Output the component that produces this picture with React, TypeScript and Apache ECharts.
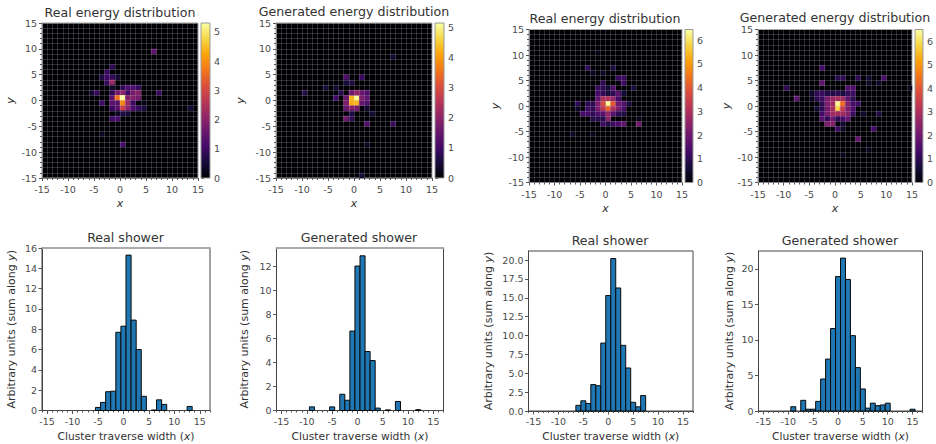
import React, { useEffect, useRef } from "react";
import * as echarts from "echarts";

const FONT = "DejaVu Sans";
const inferno = ["#000004", "#160b39", "#420a68", "#6a176e", "#932667", "#bc3754", "#dd513a", "#f37819", "#fca50a", "#f6d746", "#fcffa4"];

// Energy maps: [x bin lower edge, y bin lower edge, energy]
const realMapA = [
  [-2,6,0.8],[-3,5,0.9],[-4,4,0.6],[-3,4,1.0],[-2,4,0.9],[-1,4,0.5],[-3,3,0.9],[-2,3,2.2],
  [-2,2,0.4],[0,2,0.8],[1,2,1.2],[2,2,1.2],[3,2,0.9],
  [-6,1,0.4],[-5,1,0.9],[-2,1,0.8],[-1,1,1.7],[0,1,2.0],[1,1,1.0],[2,1,1.7],[3,1,1.9],[7,1,0.9],
  [-2,0,1.4],[-1,0,3.6],[0,0,5.3],[1,0,1.9],[2,0,1.9],[3,0,1.7],
  [-4,-1,1.0],[-2,-1,1.4],[-1,-1,1.3],[0,-1,3.9],[1,-1,2.2],[2,-1,1.0],[4,-1,0.2],
  [-2,-2,1.0],[-1,-2,1.3],[0,-2,2.8],[1,-2,2.0],[2,-2,1.2],[3,-2,0.9],[4,-2,0.6],[13,-2,0.5],
  [-1,-3,0.3],[0,-3,0.6],[1,-3,0.5],[-2,-4,1.0],[-1,-4,1.1],[-4,-7,0.3],[0,-9,1.1],[6,9,1.4],
];
const genMapA = [
  [0,0,5.1],[-1,0,4.3],[-1,-1,4.2],[0,-1,4.3],[1,0,1.8],[2,0,1.4],[2,1,1.2],[1,1,1.5],[0,1,2.0],[-1,1,1.6],
  [-2,0,1.5],[-2,-1,1.8],[-2,-2,1.5],[-1,-2,1.9],[0,-2,1.7],[1,-1,1.5],[2,-1,1.2],
  [-4,0,1.0],[-3,1,0.7],[-6,2,0.5],[-4,2,0.4],[-10,1,0.7],[-2,4,1.2],[-2,3,0.5],[-1,3,0.6],[1,4,0.9],[7,8,0.4],
  [-2,-4,1.6],[-1,-4,0.8],[-1,-3,0.6],[2,-5,1.2],[3,-3,0.5],[2,-2,0.4],[7,-5,0.9],[2,-9,0.3],[1,-15,0.5],
];
const realMapB = [
  [0,0,6.4],[-1,0,3.7],[1,0,4.0],[2,0,2.0],[3,0,1.6],[0,-1,4.2],[-1,-1,3.2],[1,-1,3.0],[2,-1,2.2],[3,-1,1.4],[-2,-1,2.2],
  [0,1,3.0],[-1,1,3.0],[1,1,2.6],[2,1,1.3],[-2,1,1.7],[-2,0,2.2],
  [0,-2,2.6],[-1,-2,1.6],[1,-2,1.7],[2,-2,1.0],[3,-2,0.8],[-2,-2,1.5],[-3,-2,1.0],[-4,-2,1.3],[-5,-2,1.3],
  [0,-3,2.4],[-1,-3,0.9],[-2,-3,0.9],[-3,-3,0.8],[1,-4,1.2],[0,-4,0.8],[-1,-4,1.2],[2,-4,1.4],[3,-4,1.8],[6,-4,2.0],[6,-3,0.3],
  [-3,-1,1.0],[-4,-1,1.2],[-4,0,0.9],[-3,0,1.0],[-6,0,1.0],[-6,-1,0.4],
  [2,2,1.7],[3,2,0.6],[1,2,1.0],[1,3,1.5],[0,3,0.6],[-1,3,1.0],[-2,3,1.1],[-1,4,1.0],[-1,2,1.1],[-2,2,1.3],[0,2,0.7],[4,0,0.7],
  [2,5,1.1],[3,5,1.2],[3,4,1.2],[5,3,0.7],[-4,7,1.0],[1,7,0.7],[-3,6,0.4],[-1,6,0.4],[-7,-6,0.4],[-3,-6,0.3],[-2,10,0.2],
];
const genMapB = [
  [0,0,6.4],[0,-1,5.8],[1,0,4.4],[1,-1,3.4],[-1,0,2.8],[-1,-1,2.9],[-1,1,2.7],[0,1,2.9],[1,1,2.8],[2,1,1.7],[2,0,2.3],[2,-1,2.2],
  [1,-2,2.8],[0,-2,2.8],[-1,-2,2.8],[2,-2,2.4],[-2,1,2.2],[-2,0,2.3],[-2,-1,2.1],[-2,-2,2.2],[3,-1,1.5],[3,0,1.4],[3,1,1.0],
  [-3,-1,1.0],[-3,-2,1.3],[-3,0,1.0],[-4,-1,0.5],[-2,-3,1.0],[-1,-3,2.0],[0,-3,1.0],[1,-3,1.4],[2,-3,1.8],[3,-2,1.2],[-3,-3,1.6],
  [-2,-4,2.2],[-1,-4,2.3],[2,2,1.1],[0,2,1.0],[-1,2,0.8],[1,2,0.7],[2,3,1.5],[3,3,1.5],[3,2,1.2],[-3,2,1.2],[-4,2,1.0],[-3,1,1.2],[-4,1,1.0],[-2,2,0.8],[-5,2,0.5],[-5,1,0.3],
  [-3,4,1.7],[0,5,0.9],[1,5,1.0],[4,5,1.0],[6,5,0.5],[9,5,1.4],[8,4,0.4],[6,4,0.4],[-3,7,1.3],[-10,3,1.0],[-8,1,1.7],[14,3,0.3],
  [4,0,1.2],[8,-2,0.8],[5,-2,0.5],[7,-5,1.3],[0,-5,1.2],[1,-5,0.4],[1,-4,0.5],[4,-7,1.8],[6,-9,0.3],[1,-10,0.3],
];

// Shower profiles: [bin centre, height]
const realHistA = [[-5,0.3],[-4,0.8],[-3,1.85],[-2,1.9],[-1,7.7],[0,8.3],[1,15.3],[2,8.9],[3,6.0],[4,1.4],[6,0.05],[7,1.05],[8,0.6],[13,0.4]];
const genHistA = [[-9,0.3],[-5,0.3],[-3,1.35],[-2,0.85],[-1,6.6],[0,12.0],[1,12.85],[2,4.9],[3,4.15],[4,0.2],[6,0.05],[8,0.75],[12,0.07]];
const realHistB = [[-6,0.75],[-5,1.35],[-4,1.0],[-3,3.5],[-2,3.35],[-1,9.0],[0,15.3],[1,20.2],[2,16.3],[3,8.7],[4,5.7],[5,1.15],[6,0.55],[7,2.05]];
const genHistB = [[-9,0.6],[-7,1.5],[-6,0.25],[-5,0.25],[-4,1.35],[-3,4.5],[-2,7.3],[-1,11.6],[0,18.9],[1,21.5],[2,18.5],[3,10.6],[4,6.1],[5,3.1],[6,0.4],[7,1.1],[8,0.75],[9,0.85],[10,1.1],[15,0.25]];

const xTicks = [-15, -10, -5, 0, 5, 10, 15];
const histMinor = Array.from({ length: 34 }, (_, i) => i - 16);
const bins = Array.from({ length: 30 }, (_, i) => String(i - 15));

const grey = "#555";
const text = "#4a4a4a";
const tickLabel = { color: text, fontFamily: FONT, fontSize: 9.5 };
const nameStyle = (size: number) => ({
  color: "#333", fontFamily: FONT, fontSize: size,
  rich: { i: { color: "#333", fontFamily: FONT, fontSize: size, fontStyle: "italic" } },
});

function buildOption() {
  const grid: any[] = [], xAxis: any[] = [], yAxis: any[] = [], series: any[] = [], title: any[] = [], visualMap: any[] = [];
  const addTitle = (t: string, cx: number, cy: number) =>
    title.push({ text: t, left: cx, top: cy - 7, textAlign: "center", padding: 0, textStyle: { color: "#333", fontFamily: FONT, fontSize: 12.6, fontWeight: "normal" } });

  const heat = (name: string, data: number[][], vmax: number, cbTicks: number[], L: number, T: number, W: number, H: number, cbL: number, cbW: number, cx: number, cy: number, xGap: number, yGap: number) => {
    addTitle(name, cx, cy);
    const g = grid.length;
    grid.push({ left: L, top: T, width: W, height: H, show: true, backgroundColor: "#000004", borderColor: "#999", borderWidth: 1 });
    const xCat = xAxis.length, yCat = yAxis.length;
    xAxis.push({ type: "category", gridIndex: g, data: bins, show: false, position: "top" });
    yAxis.push({ type: "category", gridIndex: g, data: bins, show: false, position: "right" });
    const minor = { show: true, lineStyle: { color: "rgba(255,255,255,0.17)", width: 1 } };
    xAxis.push({
      type: "value", gridIndex: g, position: "bottom", min: -15, max: 15, interval: 5, z: 5,
      name: "{i|x}", nameLocation: "middle", nameGap: xGap, nameTextStyle: nameStyle(11),
      axisLine: { show: true, onZero: false, lineStyle: { color: "#888" } },
      axisTick: { length: 3, lineStyle: { color: grey } },
      minorTick: { show: true, splitNumber: 5, length: 2, lineStyle: { color: grey } },
      splitLine: minor, minorSplitLine: minor,
      axisLabel: { ...tickLabel, margin: 6.5, showMinLabel: true, showMaxLabel: true },
    });
    yAxis.push({
      type: "value", gridIndex: g, position: "left", min: -15, max: 15, interval: 5, z: 5,
      name: "{i|y}", nameLocation: "middle", nameGap: yGap, nameTextStyle: nameStyle(11),
      axisLine: { show: true, onZero: false, lineStyle: { color: "#888" } },
      axisTick: { length: 3, lineStyle: { color: grey } },
      minorTick: { show: true, splitNumber: 5, length: 2, lineStyle: { color: grey } },
      splitLine: minor, minorSplitLine: minor,
      axisLabel: { ...tickLabel, margin: 5, showMinLabel: true, showMaxLabel: true },
    });
    const s = series.length;
    series.push({
      type: "heatmap", xAxisIndex: xCat, yAxisIndex: yCat, silent: true, progressive: 0, z: 2,
      data: data.map(([x, y, v]) => [x + 15, y + 15, v]),
    });
    visualMap.push({ show: false, type: "continuous", seriesIndex: s, dimension: 2, min: 0, max: vmax, inRange: { color: inferno } });

    // colour bar
    const gb = grid.length;
    grid.push({ left: cbL, top: T, width: cbW, height: H });
    xAxis.push({ type: "value", gridIndex: gb, min: 0, max: 1, show: false });
    yAxis.push({
      type: "value", gridIndex: gb, position: "right", min: 0, max: vmax,
      axisLine: { show: false }, splitLine: { show: false },
      axisTick: { show: true, length: 3, customValues: cbTicks, lineStyle: { color: grey } },
      axisLabel: { ...tickLabel, margin: 4, customValues: cbTicks },
    });
    series.push({
      type: "custom", xAxisIndex: xAxis.length - 1, yAxisIndex: yAxis.length - 1, silent: true, clip: false,
      data: [[1, vmax]],
      renderItem: (_: any, api: any) => {
        const a = api.coord([0, api.value(1)]);
        const b = api.coord([api.value(0), 0]);
        return {
          type: "rect",
          shape: { x: a[0], y: a[1], width: b[0] - a[0], height: b[1] - a[1] },
          style: {
            stroke: "#999", lineWidth: 1,
            fill: new echarts.graphic.LinearGradient(0, 1, 0, 0, inferno.map((color, i) => ({ offset: i / (inferno.length - 1), color }))),
          },
        };
      },
    });
  };

  const hist = (name: string, data: number[][], ymax: number, yTicks: number[], fixed: boolean, L: number, T: number, W: number, H: number, cx: number, cy: number, xGap: number, yGap: number, softTop: boolean) => {
    addTitle(name, cx, cy);
    const g = grid.length;
    grid.push({ left: L, top: T, width: W, height: H, show: true, borderColor: "#444", borderWidth: 1 });
    const base = { type: "value", gridIndex: g, position: "bottom", min: -16, max: 17, splitLine: { show: false } };
    const xi = xAxis.length;
    xAxis.push({
      ...base, axisLine: { show: true, onZero: false, lineStyle: { color: "#444" } },
      axisTick: { show: true, length: 2, customValues: histMinor, lineStyle: { color: grey } },
      axisLabel: { show: false },
    });
    xAxis.push({
      ...base, axisLine: { show: false, onZero: false },
      axisTick: { show: true, length: 3.5, customValues: xTicks, lineStyle: { color: grey } },
      axisLabel: { ...tickLabel, margin: 5.5, customValues: xTicks },
      name: "Cluster traverse width ({i|x})", nameLocation: "middle", nameGap: xGap, nameTextStyle: nameStyle(10.7),
    });
    if (softTop) {
      xAxis.push({
        ...base, position: "top",
        axisLine: { show: true, onZero: false, lineStyle: { color: "#aaa", width: 2 } },
        axisTick: { show: false }, axisLabel: { show: false },
      });
    }
    const yi = yAxis.length;
    yAxis.push({
      type: "value", gridIndex: g, position: "left", min: 0, max: ymax,
      splitLine: { show: false },
      axisLine: { show: true, onZero: false, lineStyle: { color: "#444" } },
      axisTick: { show: true, length: 3.5, customValues: yTicks, lineStyle: { color: grey } },
      axisLabel: { ...tickLabel, margin: 5, customValues: yTicks, formatter: (v: number) => (fixed ? v.toFixed(1) : String(v)) },
      name: "Arbitrary units (sum along {i|y})", nameLocation: "middle", nameGap: yGap, nameTextStyle: nameStyle(11),
    });
    series.push({
      type: "custom", xAxisIndex: xi, yAxisIndex: yi, silent: true, z: 3,
      data,
      encode: { x: 0, y: 1 },
      renderItem: (_: any, api: any) => {
        const a = api.coord([api.value(0) - 0.5, api.value(1)]);
        const b = api.coord([api.value(0) + 0.5, 0]);
        return {
          type: "rect",
          shape: { x: a[0], y: a[1], width: b[0] - a[0], height: b[1] - a[1] },
          style: { fill: "#1f77b4", stroke: "#0a0a0a", lineWidth: 1 },
        };
      },
    });
  };

  heat("Real energy distribution", realMapA, 5.3, [0, 1, 2, 3, 4, 5], 42, 23, 156, 155, 201, 9, 120, 13, 20, 26);
  heat("Generated energy distribution", genMapA, 5.15, [0, 1, 2, 3, 4, 5], 276, 23, 156, 155, 435, 9, 354, 11.5, 20, 30);
  heat("Real energy distribution", realMapB, 6.45, [0, 1, 2, 3, 4, 5, 6], 529, 29.5, 153, 153, 685, 8, 605, 19, 20, 28);
  heat("Generated energy distribution", genMapB, 6.5, [0, 1, 2, 3, 4, 5, 6], 758, 29.5, 154, 153, 915, 8, 835, 17.5, 20, 26);

  hist("Real shower", realHistA, 16, [0, 2, 4, 6, 8, 10, 12, 14, 16], false, 42, 248, 168, 162.5, 125.5, 238, 20, 25, true);
  hist("Generated shower", genHistA, 13.5, [0, 2, 4, 6, 8, 10, 12], false, 276.5, 248, 167, 162.5, 359, 238, 20, 27, true);
  hist("Real shower", realHistB, 21.2, [0, 2.5, 5, 7.5, 10, 12.5, 15, 17.5, 20], true, 528.5, 251, 164.5, 160, 610, 241, 20, 35, false);
  hist("Generated shower", genHistB, 22.5, [0, 5, 10, 15, 20], false, 758.5, 251, 164, 160, 840, 241, 20, 24, false);

  return { animation: false, backgroundColor: "#fff", title, grid, xAxis, yAxis, series, visualMap };
}

export default function App() {
  const ref = useRef<HTMLDivElement>(null);
  useEffect(() => {
    const chart = echarts.init(ref.current!, undefined, { renderer: "svg" });
    chart.setOption(buildOption() as any);
    return () => chart.dispose();
  }, []);
  return <div ref={ref} style={{ position: "fixed", left: 0, top: 0, width: 936, height: 444 }} />;
}
